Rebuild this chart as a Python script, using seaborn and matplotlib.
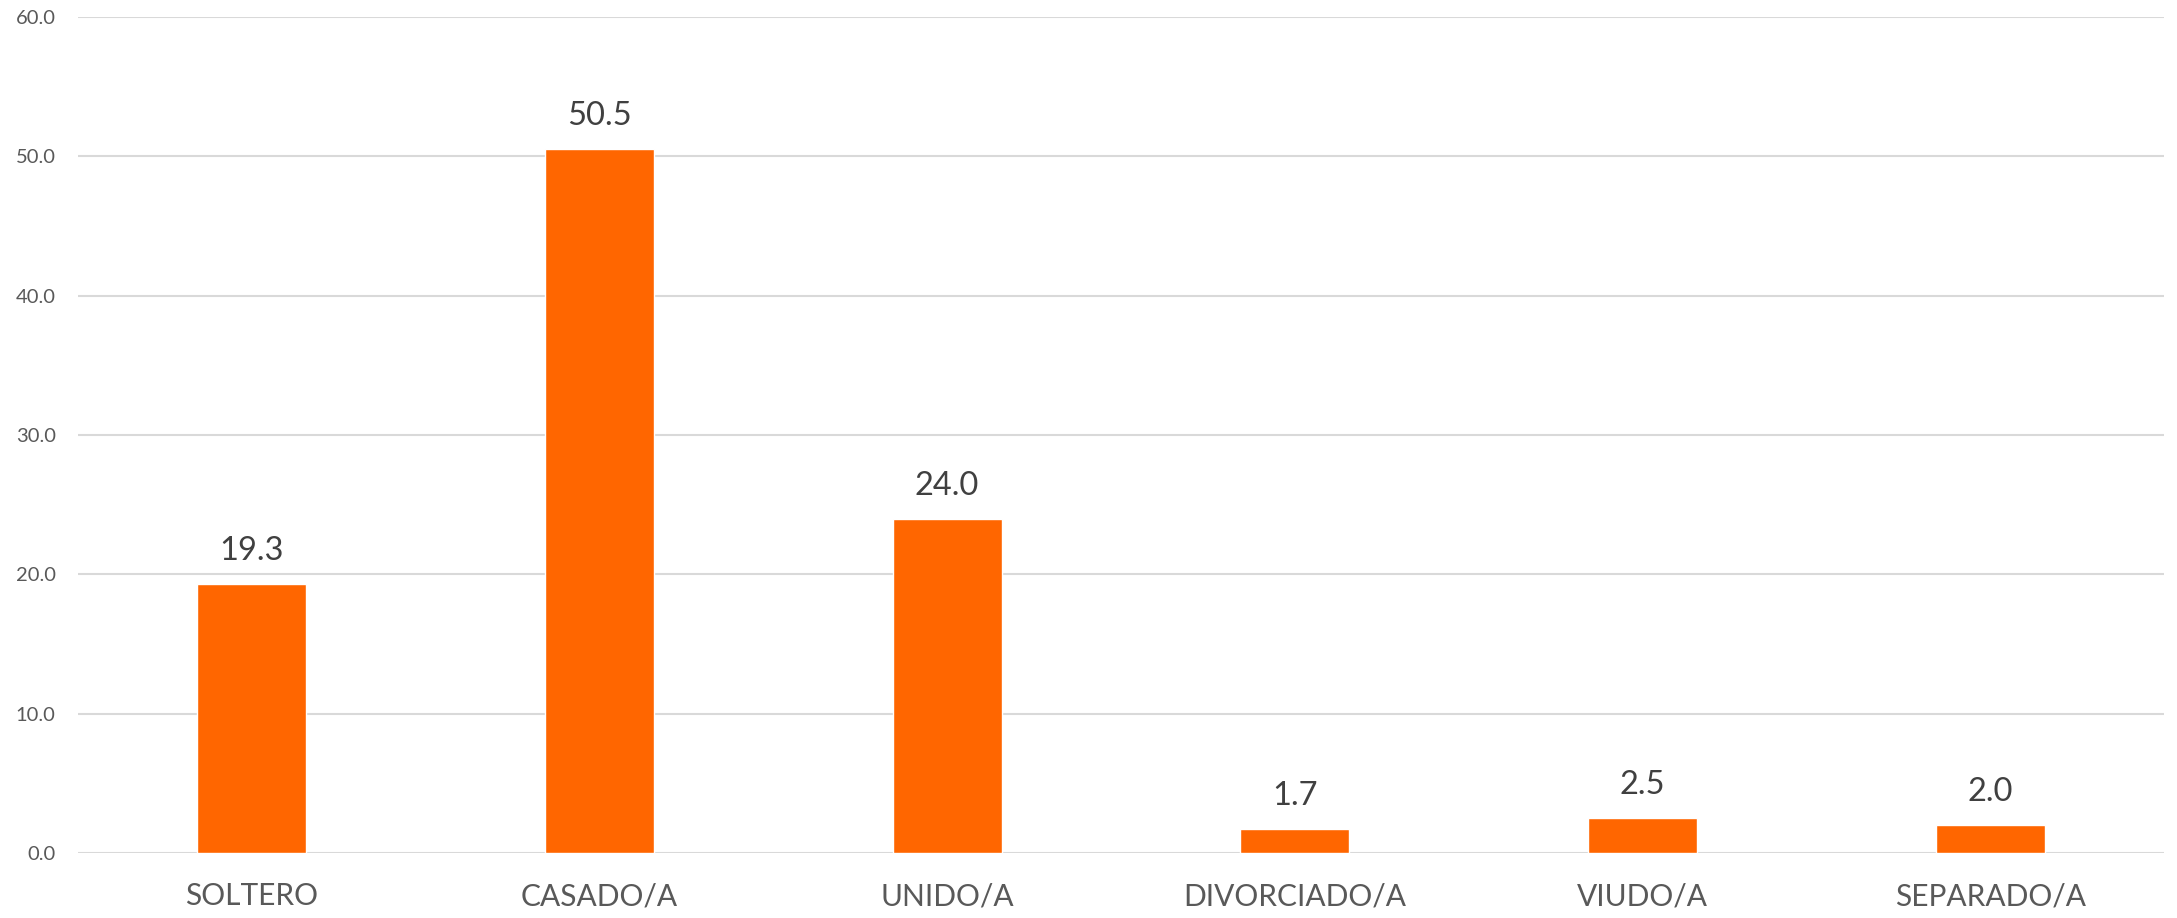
import matplotlib
matplotlib.use("Agg")
import matplotlib.pyplot as plt
import seaborn as sns
import pandas as pd

# Estado civil data
categories = ["SOLTERO", "CASADO/A", "UNIDO/A", "DIVORCIADO/A", "VIUDO/A", "SEPARADO/A"]
values = [19.3, 50.5, 24.0, 1.7, 2.5, 2.0]
yticks = [0, 10, 20, 30, 40, 50, 60]

df = pd.DataFrame({"estado": categories, "pct": values})

sns.set_style("white")
plt.rcParams["font.family"] = ["Lato", "DejaVu Sans"]

fig = plt.figure(figsize=(21.77, 9.18), dpi=100)
ax = fig.add_axes([0.0358, 0.0708, 0.9582, 0.9107])

sns.barplot(data=df, x="estado", y="pct", color="#FF6600", saturation=1,
            width=0.313, ax=ax, zorder=3)

ax.set_ylim(0, 60)
ax.set_yticks(yticks)
ax.set_yticklabels([f"{t:.1f}" for t in yticks])
ax.yaxis.grid(True, color="#D9D9D9", linewidth=1.5, zorder=0)
ax.set_axisbelow(True)
for s in ax.spines.values():
    s.set_visible(False)

ax.tick_params(axis="y", length=0, pad=16, labelsize=14.5, labelcolor="#595959")
ax.tick_params(axis="x", length=0, pad=21, labelsize=21.5, labelcolor="#595959")
ax.set_xlabel("")
ax.set_ylabel("")

for c in ax.containers:
    ax.bar_label(c, labels=[f"{v:.1f}" for v in values], padding=13,
                 fontsize=23.5, color="#404040")

fig.savefig("out.png", dpi=100)
